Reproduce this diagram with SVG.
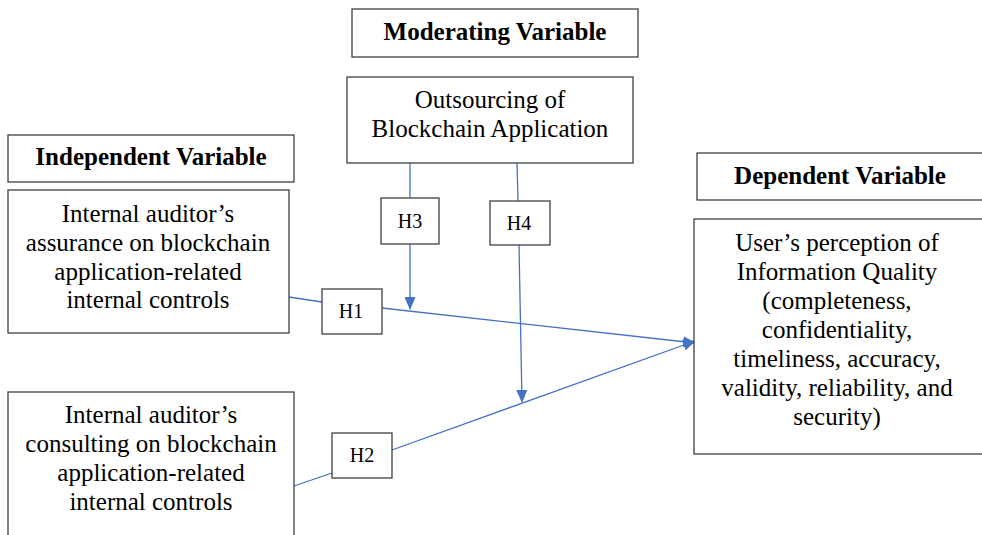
<svg xmlns="http://www.w3.org/2000/svg" width="982" height="535" viewBox="0 0 982 535">
<style>
.box{fill:#fff;stroke:#404040;stroke-width:1.3}
.t{font-family:"Liberation Serif","Times New Roman",serif;font-size:25px;fill:#000;text-anchor:middle}
.b{font-weight:bold;font-size:25px}
.h{font-size:20px}
.c{stroke:#4472C4;stroke-width:1.3;fill:none}
</style>
<defs>
<marker id="ah" markerWidth="13" markerHeight="11" refX="12" refY="5.5" orient="auto" markerUnits="userSpaceOnUse">
<path d="M0,0 L13,5.5 L0,11 Z" fill="#4472C4"/>
</marker>
</defs>
<rect width="982" height="535" fill="#fff"/>
<g id="connectors">
<line class="c" x1="410" y1="163" x2="410" y2="198"/>
<line class="c" x1="410" y1="244" x2="410" y2="309" marker-end="url(#ah)"/>
<line class="c" x1="517" y1="163" x2="518" y2="201"/>
<line class="c" x1="519" y1="245" x2="522" y2="402" marker-end="url(#ah)"/>
<line class="c" x1="289" y1="297" x2="322" y2="302"/>
<line class="c" x1="382" y1="308" x2="695" y2="343" marker-end="url(#ah)"/>
<line class="c" x1="294" y1="486" x2="332" y2="473"/>
<line class="c" x1="392" y1="450" x2="695" y2="341" marker-end="url(#ah)"/>
</g>
<g id="moderating-label">
<rect class="box" x="352" y="9" width="286" height="48"/>
<text class="t b" x="495" y="40">Moderating Variable</text>
</g>
<g id="outsourcing">
<rect class="box" x="347" y="77" width="286" height="86"/>
<text class="t" x="490" y="108">Outsourcing of</text>
<text class="t" x="490" y="137">Blockchain Application</text>
</g>
<g id="independent-label">
<rect class="box" x="8" y="135" width="286" height="47"/>
<text class="t b" x="151" y="165">Independent Variable</text>
</g>
<g id="assurance">
<rect class="box" x="8" y="190" width="281" height="143"/>
<text class="t" x="148" y="222">Internal auditor’s</text>
<text class="t" x="148" y="251">assurance on blockchain</text>
<text class="t" x="148" y="280">application-related</text>
<text class="t" x="148" y="308">internal controls</text>
</g>
<g id="consulting">
<rect class="box" x="8" y="392" width="286" height="160"/>
<text class="t" x="151" y="423">Internal auditor’s</text>
<text class="t" x="151" y="452">consulting on blockchain</text>
<text class="t" x="151" y="481">application-related</text>
<text class="t" x="151" y="510">internal controls</text>
</g>
<g id="dependent-label">
<rect class="box" x="697" y="153" width="290" height="47"/>
<text class="t b" x="840" y="184">Dependent Variable</text>
</g>
<g id="quality">
<rect class="box" x="694" y="219" width="290" height="235"/>
<text class="t" x="837" y="251">User’s perception of</text>
<text class="t" x="837" y="280">Information Quality</text>
<text class="t" x="837" y="309">(completeness,</text>
<text class="t" x="837" y="338">confidentiality,</text>
<text class="t" x="837" y="367">timeliness, accuracy,</text>
<text class="t" x="837" y="396">validity, reliability, and</text>
<text class="t" x="837" y="425">security)</text>
</g>
<g id="H3">
<rect class="box" x="381" y="198" width="58" height="46"/>
<text class="t h" x="410" y="228">H3</text>
</g>
<g id="H4">
<rect class="box" x="490" y="201" width="60" height="44"/>
<text class="t h" x="519" y="230">H4</text>
</g>
<g id="H1">
<rect class="box" x="322" y="289" width="60" height="45"/>
<text class="t h" x="351" y="318">H1</text>
</g>
<g id="H2">
<rect class="box" x="332" y="433" width="60" height="45"/>
<text class="t h" x="362" y="462">H2</text>
</g>
</svg>
